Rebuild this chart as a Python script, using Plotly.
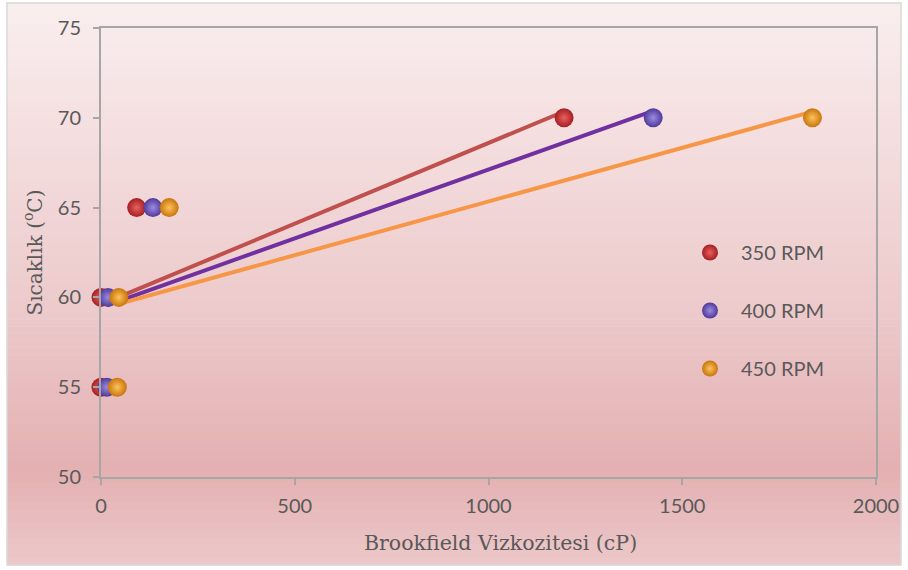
import numpy as np
import plotly.graph_objects as go

# Measured viscosity (cP) at each temperature, per spindle speed
temperature = [55, 60, 65, 70]
visc_350 = [0, 0, 92, 1195]
visc_400 = [15, 18, 134, 1425]
visc_450 = [42, 46, 176, 1836]
series_names = ["350 RPM", "400 RPM", "450 RPM"]

x_ticks = [0, 500, 1000, 1500, 2000]
y_ticks = [50, 55, 60, 65, 70, 75]

W, H = 908, 570
ML, MR, MT, MB = 101, 32, 28, 93

# sphere-like markers: dark rim fading to a light core
marker_rims = ["#A51E22", "#4F3A9A", "#C8750E"]
marker_cores = ["#E8605E", "#9C8AE0", "#FFC25A"]
line_colors = ["#C0504D", "#7030A0", "#F79646"]

fig = go.Figure()

for xs, lc in zip([visc_350, visc_400, visc_450], line_colors):
    # linear trendline over all points of the series
    slope, icpt = np.polyfit(xs, temperature, 1)
    xl = np.array([min(xs), max(xs)], dtype=float)
    fig.add_trace(go.Scatter(
        x=xl, y=slope * xl + icpt, mode="lines",
        line=dict(color=lc, width=4), showlegend=False, hoverinfo="skip",
        cliponaxis=False))

for name, xs, rim, core in zip(series_names, [visc_350, visc_400, visc_450],
                               marker_rims, marker_cores):
    fig.add_trace(go.Scatter(
        x=xs, y=temperature, mode="markers", name=name, legendgroup=name,
        marker=dict(size=19, color=rim,
                    gradient=dict(type="radial", color=core),
                    line=dict(width=0)),
        cliponaxis=False))

# vertical pink gradient behind the chart
def px_x(p):
    return (p - ML) / (W - ML - MR)

def px_y(p):
    return (H - MB - p) / (H - MT - MB)

stops = [(3, (249, 238, 239)), (120, (245, 224, 225)), (300, (237, 203, 204)),
         (470, (228, 176, 178)), (565, (236, 200, 201))]

def col_at(py):
    for (a, ca), (b, cb) in zip(stops[:-1], stops[1:]):
        if a <= py <= b:
            t = (py - a) / (b - a)
            return "rgb(%d,%d,%d)" % tuple(round(ca[i] + (cb[i] - ca[i]) * t) for i in range(3))
    return "rgb(%d,%d,%d)" % stops[-1][1]

shapes = []
n = 80
top, bot = 3, 565
for i in range(n):
    y0 = top + (bot - top) * i / n
    y1 = top + (bot - top) * (i + 1) / n
    shapes.append(dict(type="rect", xref="paper", yref="paper", layer="below",
                       x0=px_x(7), x1=px_x(901), y0=px_y(y1 + 0.6), y1=px_y(y0),
                       fillcolor=col_at((y0 + y1) / 2), line=dict(width=0)))
shapes.append(dict(type="rect", xref="paper", yref="paper", layer="below",
                   x0=px_x(7), x1=px_x(901), y0=px_y(bot), y1=px_y(top),
                   fillcolor="rgba(0,0,0,0)", line=dict(color="#D9D9D9", width=1.5)))

axis_common = dict(showline=True, linecolor="#A6A6A6", linewidth=2, mirror=True,
                   ticks="outside", ticklen=6, tickcolor="#A6A6A6", tickwidth=1.5,
                   showgrid=False, zeroline=False, automargin=False)

fig.update_layout(
    width=W, height=H,
    margin=dict(l=ML, r=MR, t=MT, b=MB),
    paper_bgcolor="white", plot_bgcolor="rgba(0,0,0,0)",
    shapes=shapes,
    xaxis=dict(range=[0, 2000], tickvals=x_ticks, **axis_common,
               tickfont=dict(family="Lato", size=20, color="#595959"),
               ticklabelstandoff=4),
    yaxis=dict(range=[50, 75], tickvals=y_ticks, **axis_common,
               tickfont=dict(family="Lato", size=20, color="#595959"),
               ticklabelstandoff=8,
               title=dict(text="Sıcaklık (<sup>o</sup>C)", standoff=10,
                          font=dict(family="DejaVu Serif", size=20, color="#595959"))),
    annotations=[dict(text="Brookfield Vizkozitesi (cP)", xref="paper", yref="paper",
                      x=px_x(500), y=px_y(543), xanchor="center", yanchor="middle",
                      showarrow=False,
                      font=dict(family="DejaVu Serif", size=20.5, color="#595959"))],
    legend=dict(x=px_x(679), y=px_y(233), xanchor="left", yanchor="top",
                bgcolor="rgba(0,0,0,0)", tracegroupgap=29, itemwidth=52,
                font=dict(family="Lato", size=20, color="#595959")),
    showlegend=True,
)

fig.write_html("out.html")
